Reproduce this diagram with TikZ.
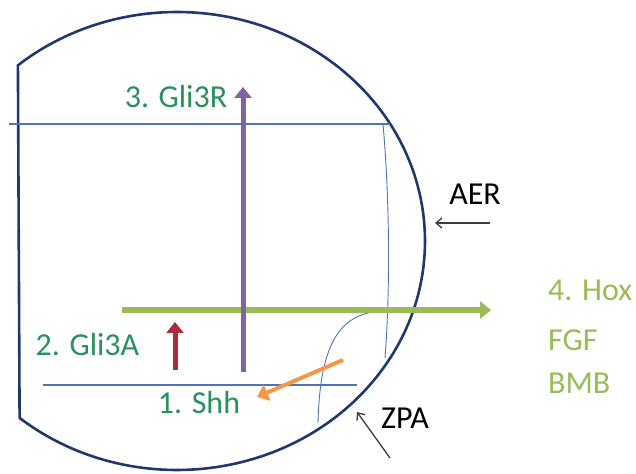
\documentclass[tikz,border=0pt]{standalone}
\usepackage{fontspec}
\setmainfont{Carlito}
\usetikzlibrary{arrows.meta}
\definecolor{outl}{RGB}{31,56,110}
\definecolor{thin}{RGB}{79,115,180}
\definecolor{lbl}{RGB}{40,145,95}
\definecolor{olive}{RGB}{155,187,89}
\definecolor{purp}{RGB}{128,100,162}
\definecolor{redd}{RGB}{170,45,60}
\definecolor{orng}{RGB}{247,150,70}
\definecolor{darkg}{RGB}{60,60,60}
\tikzset{
  txt/.style={inner sep=0pt, font=\fontsize{32}{38}\selectfont},
  outline/.style={draw=outl, line width=2.6pt},
  thinline/.style={draw=thin, line width=1.1pt},
  fatarrow/.style={line width=#1, -{Triangle[length=11pt,width=17pt]}},
  pointer/.style={draw=darkg, line width=1.3pt, -{Straight Barb[length=6pt,width=10pt]}}
}
\begin{document}
\begin{tikzpicture}[x=1pt,y=1pt]
\useasboundingbox (0,0) rectangle (636,473);
\coordinate (ctr) at (177,232);
% outer limb shape
\draw[outline] (ctr) ++(-129.4:248 and 229) arc[start angle=-129.4, end angle=129.9, x radius=248, y radius=229] -- cycle;
% thin lines
\coordinate (tl1) at (9,349);
\coordinate (tl2) at (390,349);
\coordinate (bl1) at (43,88);
\coordinate (bl2) at (357,88);
\draw[thinline] (tl1) -- (tl2);
\draw[thinline] (bl1) -- (bl2);
\coordinate (v1) at (383,349);
\coordinate (v2) at (385,115);
\draw[thinline, line width=0.9pt] (v1) .. controls (390,270) and (390,180) .. (v2);
\coordinate (c1) at (318,50);
\coordinate (c2) at (386,162);
\draw[thinline, line width=0.9pt] (c1) .. controls (320,130) and (340,162) .. (c2);
% labels
\node[txt, text=lbl] (gli3r) at (176,376) {3. Gli3R};
\node[txt, text=lbl] (gli3a) at (87.5,128) {2. Gli3A};
\node[txt, text=lbl] (shh) at (199,70) {1. Shh};
\node[txt, text=olive, anchor=west] (hox) at (548,183) {4. Hox};
\node[txt, text=olive, anchor=west] (fgf) at (548,133) {FGF};
\node[txt, text=olive, anchor=west] (bmb) at (548,90) {BMB};
\node[txt] (aer) at (475,279) {AER};
\node[txt] (zpa) at (405,55) {ZPA};
% arrows
\coordinate (g1) at (122,163);
\coordinate (g2) at (491,163);
\draw[fatarrow=5.5pt, draw=olive, fill=olive] (g1) -- (g2);
\coordinate (p1) at (243,101);
\coordinate (p2) at (243,386);
\draw[fatarrow=5pt, draw=purp, fill=purp] (p1) -- (p2);
\coordinate (r1) at (175,103);
\coordinate (r2) at (175,151);
\draw[fatarrow=5pt, draw=redd, fill=redd] (r1) -- (r2);
\coordinate (o1) at (343,113);
\coordinate (o2) at (257,76);
\draw[fatarrow=4pt, draw=orng, fill=orng] (o1) -- (o2);
\coordinate (a1) at (490,250);
\coordinate (a2) at (435,250);
\draw[pointer] (a1) -- (a2);
\coordinate (z1) at (390,15);
\coordinate (z2) at (357,61);
\draw[pointer] (z1) -- (z2);
\end{tikzpicture}
\end{document}
